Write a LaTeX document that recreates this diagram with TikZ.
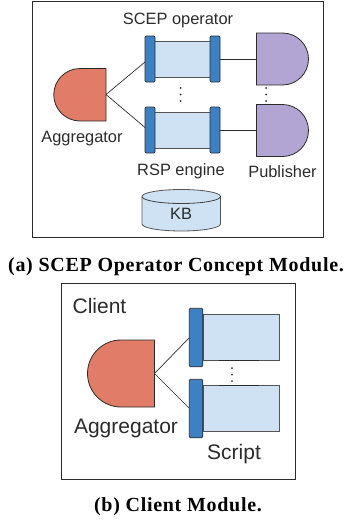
\documentclass[tikz,border=0pt]{standalone}
\usepackage{fontspec}
\setmainfont{Liberation Sans}
\newfontfamily\capfont{Liberation Serif}[BoldFont={Liberation Serif Bold},BoldFeatures={LetterSpace=3.5}]
\definecolor{aggred}{HTML}{E07C68}
\definecolor{barblue}{HTML}{3D80C4}
\definecolor{boxblue}{HTML}{CFE2F3}
\definecolor{pubpurple}{HTML}{B3A5D3}
\definecolor{ink}{HTML}{2B2B2B}
\tikzset{
  frame/.style={draw=ink,line width=0.8pt},
  shapeline/.style={draw=ink,line width=0.8pt},
  link/.style={draw=ink,line width=0.7pt},
  bar/.style={draw=ink,fill=barblue,line width=0.7pt,rounded corners=1.2pt,inner sep=0pt,minimum width=#1},
  bar/.default=10pt,
  box/.style={draw=ink!80,fill=boxblue,line width=0.8pt,inner sep=0pt},
  dotmark/.style={fill=ink,circle,inner sep=0pt,minimum size=2pt},
  smalltxt/.style={text=ink,inner sep=0pt,font=\fontsize{16.4}{18}\selectfont},
  bigtxt/.style={text=ink,inner sep=0pt,font=\fontsize{21}{23}\selectfont},
  captxt/.style={text=black,inner sep=0pt,font=\capfont\bfseries\fontsize{20}{22}\selectfont},
}
\begin{document}
\begin{tikzpicture}[x=1pt,y=-1pt]
\useasboundingbox (0,0) rectangle (348,522);
% ---- module (a)
\node[frame,inner sep=0pt,minimum width=291.5pt,minimum height=235.5pt] (frameA) at (177.75,119.25) {};
\node[smalltxt] (scep) at (178,20) {SCEP operator};
% boxes
\node[box,minimum width=56pt,minimum height=36pt] (boxT) at (182.5,59) {};
\node[box,minimum width=56pt,minimum height=36pt] (boxB) at (182.5,130) {};
\node[bar,minimum height=46pt] (barTL) at (150,59) {};
\node[bar,minimum height=46pt] (barTR) at (215,59) {};
\node[bar,minimum height=46pt] (barBL) at (150,130) {};
\node[bar,minimum height=46pt] (barBR) at (215,130) {};
% aggregator
\coordinate (aggA) at (106,94.5);
\coordinate (inT) at (145,62);
\coordinate (inB) at (145,127.5);
\path[shapeline,fill=aggred] (106,68.5) -- (80,68.5) arc[start angle=90,end angle=270,radius=26.25pt] -- (106,121) -- cycle;
\draw[link] (aggA) -- (inT);
\draw[link] (aggA) -- (inB);
% publishers
\coordinate (pubT) at (256.5,59);
\coordinate (pubB) at (256.5,130);
\path[shapeline,fill=pubpurple] (256.5,33) -- (282.5,33) arc[start angle=90,end angle=-90,radius=26pt] -- (256.5,85) -- cycle;
\path[shapeline,fill=pubpurple] (256.5,104.5) -- (282.5,104.5) arc[start angle=90,end angle=-90,radius=26pt] -- (256.5,156.5) -- cycle;
\draw[link] (barTR) -- (pubT);
\draw[link] (barBR) -- (pubB);
% dots
\foreach \n/\px/\py in {d1/180.5/88,d2/180.5/94.5,d3/180.5/101,d4/266/88,d5/266/94.5,d6/266/101}
  \node[dotmark] (\n) at (\px,\py) {};
% labels
\node[smalltxt] (aggL) at (82,139) {Aggregator};
\node[smalltxt] (rsp) at (181,171.5) {RSP engine};
\node[smalltxt] (pubL) at (282.5,171.5) {Publisher};
% KB
\path[shapeline,fill=boxblue,draw=ink!80] (142,196.5) -- (142,224) arc[start angle=180,end angle=360,x radius=39.25pt,y radius=7pt] -- (220.5,196.5) arc[start angle=0,end angle=180,x radius=39.25pt,y radius=7pt] -- cycle;
\path[shapeline,draw=ink!90] (142,196.5) arc[start angle=180,end angle=360,x radius=39.25pt,y radius=7pt];
\node[smalltxt] (kb) at (181,214) {KB};
\node[captxt] (capA) at (176,267) {(a) SCEP Operator Concept Module.};
% ---- module (b)
\node[frame,inner sep=0pt,minimum width=234pt,minimum height=195.5pt] (frameB) at (178.5,381.5) {};
\node[bigtxt] (client) at (99.5,306) {Client};
\node[box,minimum width=76pt,minimum height=46pt] (sT) at (241,337.3) {};
\node[box,minimum width=76pt,minimum height=46pt] (sB) at (241,408.7) {};
\node[bar=13.5pt,minimum height=58.5pt] (sbT) at (196,337.5) {};
\node[bar=13.5pt,minimum height=58.5pt] (sbB) at (196,408.5) {};
\coordinate (aggB) at (154.5,373.5);
\coordinate (sinT) at (189,338);
\coordinate (sinB) at (189,408);
\path[shapeline,fill=aggred] (154.5,340) -- (121,340) arc[start angle=90,end angle=270,radius=33.5pt] -- (154.5,407) -- cycle;
\draw[link] (aggB) -- (sinT);
\draw[link] (aggB) -- (sinB);
\coordinate (tA) at (219,360.5);
\coordinate (tB) at (259,360.5);
\coordinate (tC) at (219,385.7);
\coordinate (tD) at (259,385.7);
\draw[ink,line width=1.3pt] (tA) -- (tB);
\draw[ink,line width=1.3pt] (tC) -- (tD);
\foreach \n/\px/\py in {e1/232/368,e2/232/374.5,e3/232/381}
  \node[dotmark] (\n) at (\px,\py) {};
\node[bigtxt] (aggLB) at (126,428.5) {Aggregator};
\node[bigtxt] (script) at (234,454) {Script};
\node[captxt] (capB) at (178,507) {(b) Client Module.};
\end{tikzpicture}
\end{document}
